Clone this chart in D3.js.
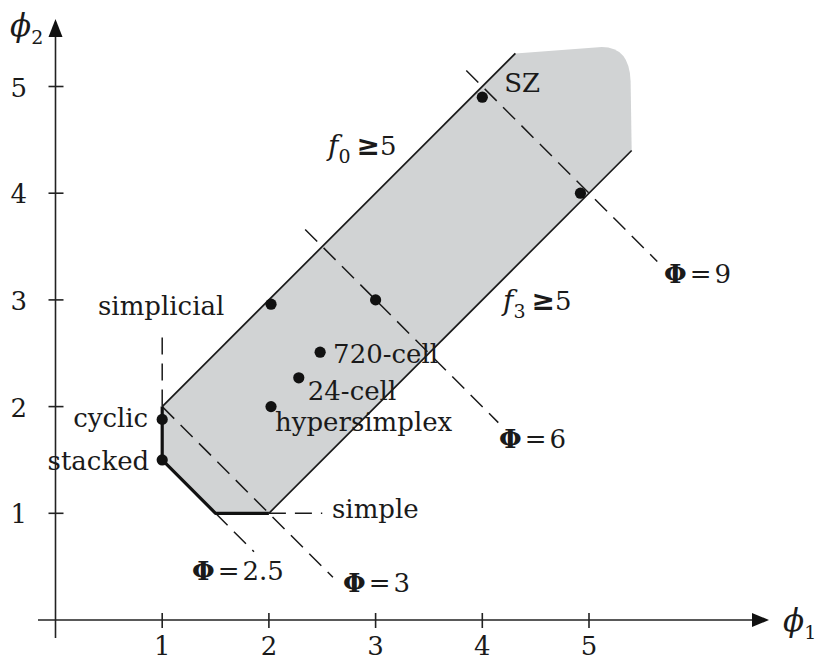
<!DOCTYPE html>
<html>
<head>
<meta charset="utf-8">
<script src="https://cdn.jsdelivr.net/npm/d3@7"></script>
<style>
  body { margin: 0; background: #fff; }
  text { font-family: "DejaVu Serif", serif; fill: #1a1a1a; }
</style>
</head>
<body>
<div id="chart"></div>
<script>
const width = 815;
const height = 661;

// tick values on both axes
const ticks = [1, 2, 3, 4, 5];

// shaded region (phi1, phi2)
const regionLower = [[1, 2], [1, 1.5], [1.5, 1], [2, 1], [5.4, 4.4], [5.39, 5.05]];
const regionCorner = [[5.38, 5.37], [5.12, 5.37]];
const regionTop = [[4.31, 5.31]];

// boundary edges
const boldEdge = [[1, 2], [1, 1.5], [1.5, 1], [2, 1]];
const upperEdge = [[1, 2], [4.31, 5.31]];
const lowerEdge = [[2, 1], [5.4, 4.4]];

// dashed guide lines
const dashNames = ["simplicial", "simple", "phi2.5", "phi3", "phi6", "phi9"];
const dashLines = [
  [[1, 2], [1, 2.72]],
  [[2, 1], [2.5, 1]],
  [[1.5, 1], [1.86, 0.64]],
  [[1, 2], [2.6, 0.4]],
  [[2.34, 3.66], [4.15, 1.85]],
  [[3.85, 5.15], [5.64, 3.36]]
];

// known polytopes
const pointNames = ["SZ", "", "", "", "720-cell", "24-cell", "hypersimplex", "cyclic", "stacked"];
const pointX = [4, 4.92, 2.02, 3, 2.48, 2.28, 2.02, 1, 1];
const pointY = [4.9, 4.0, 2.96, 3, 2.51, 2.27, 2.0, 1.88, 1.5];

// Phi level labels
const phiValues = ["2.5", "3", "6", "9"];

const svg = d3
  .select("#chart")
  .append("svg")
  .attr("width", width)
  .attr("height", height);

const x = d3.scaleLinear().domain([0, 5]).range([55.5, 589]);
const y = d3.scaleLinear().domain([0, 5]).range([620, 86.5]);

const line = d3.line().x((d) => x(d[0])).y((d) => y(d[1]));

// shaded region with rounded top right corner
const p = d3.path();
regionLower.forEach((d, i) => (i ? p.lineTo(x(d[0]), y(d[1])) : p.moveTo(x(d[0]), y(d[1]))));
p.quadraticCurveTo(x(regionCorner[0][0]), y(regionCorner[0][1]), x(regionCorner[1][0]), y(regionCorner[1][1]));
regionTop.forEach((d) => p.lineTo(x(d[0]), y(d[1])));
p.closePath();
svg.append("path").attr("d", p.toString()).attr("fill", "#d1d3d4");

// dashed lines
svg
  .selectAll(".dash")
  .data(dashLines)
  .join("path")
  .classed("dash", true)
  .attr("d", line)
  .attr("fill", "none")
  .attr("stroke", "#1a1a1a")
  .attr("stroke-width", 1.5)
  .attr("stroke-dasharray", "17,9");

// edges
svg
  .selectAll(".edge")
  .data([upperEdge, lowerEdge])
  .join("path")
  .classed("edge", true)
  .attr("d", line)
  .attr("fill", "none")
  .attr("stroke", "#1a1a1a")
  .attr("stroke-width", 1.7);

svg
  .append("path")
  .datum(boldEdge)
  .attr("d", line)
  .attr("fill", "none")
  .attr("stroke", "#111")
  .attr("stroke-width", 3.2)
  .attr("stroke-linejoin", "round");

// axes
const axis = svg.append("g").attr("stroke", "#222").attr("stroke-width", 1.6);
axis.append("line").attr("x1", 38).attr("x2", 754).attr("y1", y(0)).attr("y2", y(0));
axis.append("line").attr("x1", x(0)).attr("x2", x(0)).attr("y1", 638).attr("y2", 35);
svg
  .append("path")
  .attr("d", `M769,${y(0)} L752,${y(0) - 7} L752,${y(0) + 7} Z`)
  .attr("fill", "#111");
svg
  .append("path")
  .attr("d", `M${x(0)},19 L${x(0) - 7},37 L${x(0) + 7},37 Z`)
  .attr("fill", "#111");

axis
  .selectAll(".xtick")
  .data(ticks)
  .join("line")
  .attr("x1", (d) => x(d))
  .attr("x2", (d) => x(d))
  .attr("y1", y(0) - 7)
  .attr("y2", y(0) + 8);
axis
  .selectAll(".ytick")
  .data(ticks)
  .join("line")
  .attr("x1", x(0) - 7)
  .attr("x2", x(0) + 8)
  .attr("y1", (d) => y(d))
  .attr("y2", (d) => y(d));

svg
  .selectAll(".xlab")
  .data(ticks)
  .join("text")
  .attr("x", (d) => x(d))
  .attr("y", 655)
  .attr("text-anchor", "middle")
  .style("font-size", "26px")
  .text((d) => d);
svg
  .selectAll(".ylab")
  .data(ticks)
  .join("text")
  .attr("x", 27)
  .attr("y", (d) => y(d) + 10)
  .attr("text-anchor", "end")
  .style("font-size", "26px")
  .text((d) => d);

// axis titles
function phiLabel(px, py, sub) {
  const t = svg.append("text").attr("x", px).attr("y", py).style("font-size", "31px");
  t.append("tspan").style("font-style", "italic").text("\u03D5");
  t.append("tspan").attr("dy", 8).style("font-size", "19px").text(sub);
}
phiLabel(10, 36, "2");
phiLabel(783, 631, "1");

// points
const pts = pointX.map((v, i) => ({ name: pointNames[i], x: v, y: pointY[i] }));
svg
  .selectAll(".pt")
  .data(pts)
  .join("circle")
  .attr("cx", (d) => x(d.x))
  .attr("cy", (d) => y(d.y))
  .attr("r", 5.6)
  .attr("fill", "#111");

const labelOffset = {
  SZ: [22, -5, "start"],
  "720-cell": [13, 11, "start"],
  "24-cell": [9, 22, "start"],
  hypersimplex: [4, 24, "start"],
  cyclic: [-14, 8, "end"],
  stacked: [-13, 10, "end"]
};
svg
  .selectAll(".ptlab")
  .data(pts.filter((d) => d.name))
  .join("text")
  .attr("x", (d) => x(d.x) + labelOffset[d.name][0])
  .attr("y", (d) => y(d.y) + labelOffset[d.name][1])
  .attr("text-anchor", (d) => labelOffset[d.name][2])
  .style("font-size", "26px")
  .text((d) => d.name);

// names on dashed lines
svg.append("text").attr("x", 98).attr("y", 315).style("font-size", "26px").text(dashNames[0]);
svg.append("text").attr("x", 332).attr("y", 518).style("font-size", "26px").text(dashNames[1]);

// Phi labels
const phiPos = [[192, 580], [343, 592], [499, 448], [664, 283]];
phiValues.forEach((v, i) => {
  const t = svg
    .append("text")
    .attr("x", phiPos[i][0])
    .attr("y", phiPos[i][1])
    .style("font-size", "26px");
  t.append("tspan").style("font-weight", "bold").text("\u03A6");
  t.append("tspan").attr("dx", 3).text("=");
  t.append("tspan").attr("dx", 3).text(v);
});

// f-vector constraints
function fLabel(px, py, sub) {
  const t = svg.append("text").attr("x", px).attr("y", py).style("font-size", "28px");
  t.append("tspan").style("font-style", "italic").text("f");
  t.append("tspan").attr("dy", 8).style("font-size", "19px").text(sub);
  t.append("tspan").attr("dy", -8).attr("dx", 6).style("font-weight", "bold")
    .style("font-family", "DejaVu Sans").text("\u2265");
  t.append("tspan").style("font-size", "26px").text("5");
}
fLabel(328, 155, "0");
fLabel(503, 310, "3");
</script>
</body>
</html>
